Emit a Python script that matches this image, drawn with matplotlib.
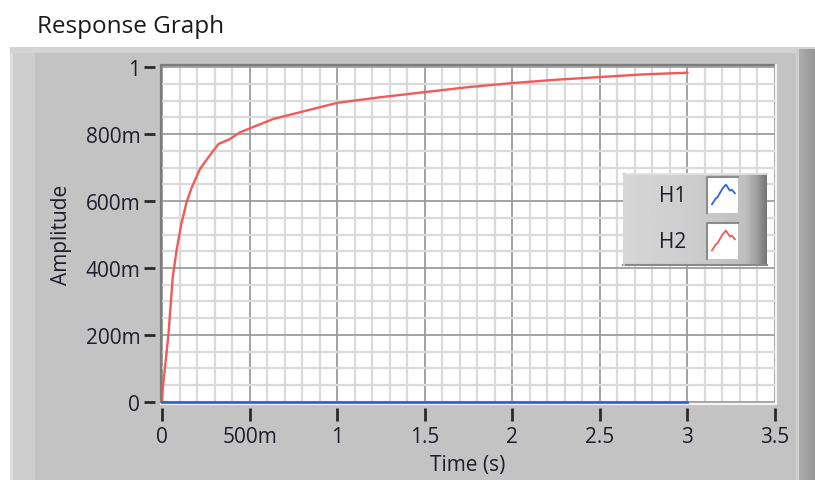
import numpy as np
import matplotlib
matplotlib.use("Agg")
import matplotlib.pyplot as plt
from matplotlib.patches import Rectangle
from matplotlib.ticker import MultipleLocator

plt.rcParams['font.family'] = ['Open Sans', 'DejaVu Sans']

# ── data ──────────────────────────────────────────────────────────────────────
time_h2 = [0, 0.004, 0.02, 0.036, 0.061, 0.084, 0.112, 0.141, 0.170, 0.217, 0.264,
           0.322, 0.388, 0.445, 0.493, 0.636, 0.826, 1.0, 1.25, 1.5, 1.75, 2.0,
           2.25, 2.5, 2.75, 3.0]
amp_h2 = [0, 0.04, 0.12, 0.198, 0.372, 0.457, 0.536, 0.598, 0.641, 0.696, 0.730,
          0.770, 0.785, 0.805, 0.815, 0.845, 0.870, 0.893, 0.910, 0.925, 0.940, 0.952,
          0.962, 0.970, 0.978, 0.983]
time_h1 = [0, 3.0]
amp_h1 = [0, 0]

x_ticks = [0, 0.5, 1, 1.5, 2, 2.5, 3, 3.5]
x_labels = ['0', '500m', '1', '1.5', '2', '2.5', '3', '3.5']
y_ticks = [0, 0.2, 0.4, 0.6, 0.8, 1]
y_labels = ['0', '200m', '400m', '600m', '800m', '1']
series_names = ['H1', 'H2']
series_colors = ['#3264dc', '#f25a5a']

W, H = 815, 481
TXT = '#1e1e2a'


def fx(px):
    return px / W


def fy(py):
    return 1 - py / H


fig = plt.figure(figsize=(W / 100, H / 100), dpi=100)

# ── grey LabVIEW-style panel behind everything ───────────────────────────────
bg = np.full((H, W), 255.0)
bg[48:, 10:] = 196
bg[48:, 10:13] = 222
bg[48:, 13:35] = 206
bg[48:54, 10:] = 212
bg[50:, 796:799] = 206
bg[50:, 799:] = np.linspace(172, 150, W - 799)
bax = fig.add_axes([0, 0, 1, 1], zorder=-5)
bax.imshow(bg, cmap='gray', vmin=0, vmax=255, aspect='auto', interpolation='nearest')
bax.axis('off')

# ── plot area ────────────────────────────────────────────────────────────────
ax = fig.add_axes([fx(161), fy(405), fx(776) - fx(161), fy(66) - fy(405)], zorder=1)
ax.set_facecolor('white')
ax.set_xlim(-0.006, 3.506)
ax.set_ylim(-0.006, 1.006)
ax.set_xticks(x_ticks)
ax.set_xticklabels(x_labels)
ax.set_yticks(y_ticks)
ax.set_yticklabels(y_labels)
ax.xaxis.set_minor_locator(MultipleLocator(0.1))
ax.yaxis.set_minor_locator(MultipleLocator(0.05))
ax.grid(which='minor', color='#dadada', lw=1.6)
ax.grid(which='major', color='#9c9c9c', lw=1.3)
ax.set_axisbelow(True)

for s in ax.spines.values():
    s.set_visible(False)
ax.spines['left'].set_position(('outward', 4))
ax.spines['bottom'].set_position(('outward', 3))
ax.tick_params(which='minor', length=0)
ax.tick_params(axis='y', which='major', length=8, width=2, color='#2a2a2a', pad=3,
               labelsize=15, labelcolor=TXT)
ax.tick_params(axis='x', which='major', length=9, width=2, color='#2a2a2a', pad=4,
               labelsize=15, labelcolor=TXT)

# sunken frame
ax.plot([0, 0, 1], [0, 1, 1], transform=ax.transAxes, color='#7c7c7c', lw=1.6,
        clip_on=False, zorder=5)
ax.plot([0, 1, 1], [0, 0, 1], transform=ax.transAxes, color='#f4f4f4', lw=1.6,
        clip_on=False, zorder=5)

ax.plot(time_h2, amp_h2, color=series_colors[1], lw=1.7, zorder=3)
ax.plot(time_h1, amp_h1, color=series_colors[0], lw=2.0, zorder=6, clip_on=False)

fig.text(fx(468), fy(466), 'Time (s)', ha='center', va='center', fontsize=15, color=TXT)
fig.text(fx(62), fy(235), 'Amplitude', ha='center', va='center', rotation=90,
         fontsize=15, color=TXT)
fig.text(fx(37), fy(27), 'Response Graph', ha='left', va='center', fontsize=17.5,
         color='#1a1a1a')

# ── legend box (pixel coordinates overlay) ───────────────────────────────────
ov = fig.add_axes([0, 0, 1, 1], zorder=3)
ov.set_xlim(0, W)
ov.set_ylim(H, 0)
ov.patch.set_alpha(0)
ov.axis('off')

lx0, lx1, ly0, ly1 = 623, 767, 174, 266
g = np.interp(np.linspace(0, 1, 144), [0, 0.5, 0.85, 0.93, 1], [214, 204, 192, 160, 118])
ov.imshow(np.tile(g, (2, 1)), cmap='gray', vmin=0, vmax=255, aspect='auto',
          extent=[lx0, lx1, ly1, ly0], interpolation='bilinear')
ov.plot([lx0, lx1], [ly0 + 0.5, ly0 + 0.5], color='#e6e6e6', lw=1.2)
ov.plot([lx0, lx1], [ly1 - 0.5, ly1 - 0.5], color='#8a8a8a', lw=1.5)
ov.plot([lx0 + 0.5, lx0 + 0.5], [ly0, ly1], color='#d8d8d8', lw=1.2)

icon = np.array([(0.16, 0.24), (0.28, 0.40), (0.34, 0.44), (0.50, 0.68),
                 (0.61, 0.79), (0.74, 0.62), (0.80, 0.65), (0.90, 0.55)])
for i, (name, col) in enumerate(zip(series_names, series_colors)):
    sy0 = 178 + i * 46
    sy1 = sy0 + 36
    ov.add_patch(Rectangle((707, sy0), 31, 36, facecolor='white', edgecolor='none'))
    ov.plot([707, 707, 738], [sy1, sy0, sy0], color='#8c8c8c', lw=1.5)
    ov.plot(707 + icon[:, 0] * 31, sy1 - icon[:, 1] * 36, color=col, lw=1.3)
    ov.text(686, (sy0 + sy1) / 2 + 1, name, ha='right', va='center', fontsize=15,
            color=TXT)

fig.savefig('out.png', dpi=100)
